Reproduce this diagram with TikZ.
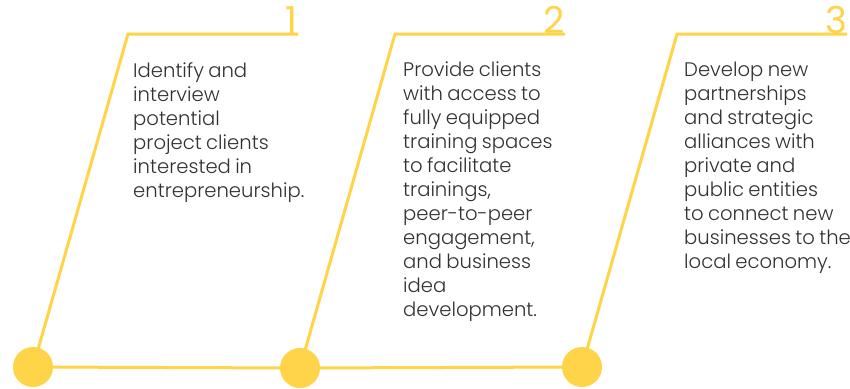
\documentclass[tikz,border=0pt]{standalone}
\usepackage{fontspec}
\setmainfont{Poppins}[UprightFont=* Light]
\newfontfamily\stepnumfont{Poppins}
\usepackage{xcolor}
\usetikzlibrary{positioning,backgrounds}
\definecolor{stepyellow}{RGB}{255,212,72}
\definecolor{steptextgray}{RGB}{50,50,50}
\newcommand{\steptextfont}{\fontsize{19.6}{24}\selectfont\spaceskip=0.22em plus 0.1em\relax}

\begin{document}
\begin{tikzpicture}[x=1pt,y=-1pt,
      dot/.style={circle, fill=stepyellow, minimum size=40pt, inner sep=0pt},
      stepline/.style={draw=stepyellow, line width=3pt},
      stepnum/.style={anchor=south east, inner sep=0pt, text=stepyellow,
        font=\stepnumfont\fontsize{37}{37}\selectfont},
      steptext/.style={anchor=north west, inner sep=0pt, align=left,
        text=steptextgray, font=\steptextfont}]
    \useasboundingbox (0,0) rectangle (850,388);
    % circles along the bottom
    \node[dot] (c1) at (33,367) {};
    \node[dot] (c2) at (300,368) {};
    \node[dot] (c3) at (582,367) {};
    % corners of the three steps
    \coordinate (t1) at (128,34);
    \coordinate (e1) at (298,34);
    \coordinate (t2) at (395,34);
    \coordinate (e2) at (565,34);
    \coordinate (t3) at (677,34);
    \coordinate (e3) at (847,34);
    \begin{scope}[on background layer]
      \draw[stepline] (c1.center) -- (c2.center) -- (c3.center);
      \draw[stepline] (c1.center) -- (t1) -- (e1);
      \draw[stepline] (c2.center) -- (t2) -- (e2);
      \draw[stepline] (c3.center) -- (t3) -- (e3);
    \end{scope}
    \node[stepnum] (n1) at (e1) {1};
    \node[stepnum] (n2) at (e2) {2};
    \node[stepnum] (n3) at (e3) {3};
    \node[steptext] (s1) at (133,62) {Identify and\\interview\\potential\\project clients\\interested in\\entrepreneurship.};
    \node[steptext] (s2) at (403,62) {Provide clients\\with access to\\fully equipped\\training spaces\\to facilitate\\trainings,\\peer-to-peer\\engagement,\\and business\\idea\\development.};
    \node[steptext] (s3) at (684,62) {Develop new\\partnerships\\and strategic\\alliances with\\private and\\public entities\\to connect new\\businesses to the\\local economy.};
  \end{tikzpicture}
\end{document}
